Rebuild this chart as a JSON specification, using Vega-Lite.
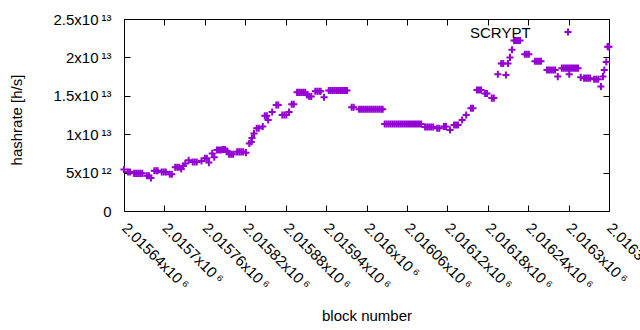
{
"$schema":"https://vega.github.io/schema/vega-lite/v6.json",
"width":485,"height":192,
"autosize":"none",
"padding":{"left":124,"top":19,"right":31,"bottom":119},
"background":"white",
"config":{"font":"Liberation Sans","view":{"stroke":"black","strokeWidth":1}},
"data":{"values":[
{"block":2015640,"hashrate":5.4e12},{"block":2015646,"hashrate":5.08e12},{"block":2015649,"hashrate":5.08e12},
{"block":2015655,"hashrate":4.9e12},{"block":2015658,"hashrate":4.9e12},{"block":2015661,"hashrate":4.9e12},{"block":2015664,"hashrate":4.9e12},{"block":2015667,"hashrate":4.9e12},
{"block":2015674,"hashrate":4.6e12},{"block":2015677,"hashrate":4.6e12},{"block":2015680,"hashrate":4.3e12},
{"block":2015685,"hashrate":5.25e12},{"block":2015688,"hashrate":5.25e12},{"block":2015690,"hashrate":5.25e12},
{"block":2015696,"hashrate":5.08e12},{"block":2015699,"hashrate":5.08e12},{"block":2015702,"hashrate":5.08e12},
{"block":2015708,"hashrate":4.78e12},{"block":2015711,"hashrate":4.78e12},
{"block":2015716,"hashrate":5.7e12},{"block":2015719,"hashrate":5.7e12},{"block":2015722,"hashrate":5.7e12},
{"block":2015725,"hashrate":5.47e12},{"block":2015728,"hashrate":5.86e12},{"block":2015731,"hashrate":6.2e12},{"block":2015736,"hashrate":6.6e12},
{"block":2015742,"hashrate":6.38e12},{"block":2015745,"hashrate":6.38e12},{"block":2015748,"hashrate":6.38e12},
{"block":2015755,"hashrate":6.5e12},{"block":2015760,"hashrate":6.86e12},{"block":2015763,"hashrate":6.86e12},{"block":2015766,"hashrate":6.3e12},
{"block":2015771,"hashrate":7.5e12},{"block":2015774,"hashrate":7.0e12},
{"block":2015778,"hashrate":7.94e12},{"block":2015781,"hashrate":7.94e12},{"block":2015784,"hashrate":7.94e12},
{"block":2015787,"hashrate":8.0e12},{"block":2015790,"hashrate":8.0e12},{"block":2015793,"hashrate":7.8e12},
{"block":2015796,"hashrate":7.4e12},{"block":2015799,"hashrate":7.4e12},{"block":2015802,"hashrate":7.4e12},
{"block":2015808,"hashrate":7.7e12},{"block":2015811,"hashrate":7.7e12},{"block":2015814,"hashrate":7.7e12},{"block":2015817,"hashrate":7.7e12},
{"block":2015821,"hashrate":7.6e12},{"block":2015826,"hashrate":8.8e12},{"block":2015829,"hashrate":9.0e12},{"block":2015830,"hashrate":9.5e12},{"block":2015833,"hashrate":10.1e12},
{"block":2015837,"hashrate":10.77e12},{"block":2015840,"hashrate":10.77e12},{"block":2015846,"hashrate":11.0e12},
{"block":2015849,"hashrate":12.4e12},{"block":2015852,"hashrate":12.4e12},{"block":2015854,"hashrate":11.85e12},
{"block":2015860,"hashrate":12.9e12},{"block":2015866,"hashrate":13.8e12},{"block":2015869,"hashrate":13.8e12},
{"block":2015875,"hashrate":12.5e12},{"block":2015878,"hashrate":12.5e12},{"block":2015881,"hashrate":12.5e12},
{"block":2015885,"hashrate":12.9e12},{"block":2015889,"hashrate":13.9e12},{"block":2015892,"hashrate":13.9e12},
{"block":2015897,"hashrate":15.45e12},{"block":2015900,"hashrate":15.45e12},{"block":2015903,"hashrate":15.45e12},{"block":2015906,"hashrate":15.45e12},{"block":2015909,"hashrate":15.45e12},
{"block":2015912,"hashrate":15.1e12},{"block":2015915,"hashrate":14.9e12},{"block":2015918,"hashrate":14.9e12},
{"block":2015924,"hashrate":15.6e12},{"block":2015927,"hashrate":15.6e12},{"block":2015930,"hashrate":15.6e12},{"block":2015932,"hashrate":15.6e12},
{"block":2015937,"hashrate":14.8e12},
{"block":2015944,"hashrate":15.7e12},{"block":2015947,"hashrate":15.7e12},{"block":2015950,"hashrate":15.7e12},{"block":2015953,"hashrate":15.7e12},{"block":2015956,"hashrate":15.7e12},{"block":2015959,"hashrate":15.7e12},{"block":2015962,"hashrate":15.7e12},{"block":2015965,"hashrate":15.7e12},{"block":2015968,"hashrate":15.7e12},{"block":2015971,"hashrate":15.7e12},
{"block":2015978,"hashrate":13.5e12},{"block":2015981,"hashrate":13.5e12},
{"block":2015989,"hashrate":13.25e12},{"block":2015992,"hashrate":13.25e12},{"block":2015995,"hashrate":13.25e12},{"block":2015998,"hashrate":13.25e12},{"block":2016001,"hashrate":13.25e12},{"block":2016004,"hashrate":13.25e12},{"block":2016007,"hashrate":13.25e12},{"block":2016010,"hashrate":13.25e12},{"block":2016013,"hashrate":13.25e12},{"block":2016016,"hashrate":13.25e12},{"block":2016019,"hashrate":13.25e12},{"block":2016022,"hashrate":13.25e12},{"block":2016024,"hashrate":13.25e12},
{"block":2016027,"hashrate":11.33e12},{"block":2016030,"hashrate":11.33e12},{"block":2016033,"hashrate":11.33e12},{"block":2016036,"hashrate":11.33e12},{"block":2016039,"hashrate":11.33e12},{"block":2016042,"hashrate":11.33e12},{"block":2016045,"hashrate":11.33e12},{"block":2016048,"hashrate":11.33e12},{"block":2016051,"hashrate":11.33e12},{"block":2016054,"hashrate":11.33e12},{"block":2016057,"hashrate":11.33e12},{"block":2016060,"hashrate":11.33e12},{"block":2016063,"hashrate":11.33e12},{"block":2016066,"hashrate":11.33e12},{"block":2016069,"hashrate":11.33e12},{"block":2016072,"hashrate":11.33e12},{"block":2016075,"hashrate":11.33e12},{"block":2016078,"hashrate":11.33e12},{"block":2016081,"hashrate":11.33e12},
{"block":2016087,"hashrate":10.94e12},{"block":2016090,"hashrate":10.94e12},{"block":2016093,"hashrate":10.94e12},{"block":2016096,"hashrate":10.94e12},{"block":2016099,"hashrate":10.94e12},
{"block":2016105,"hashrate":10.77e12},{"block":2016108,"hashrate":10.77e12},
{"block":2016115,"hashrate":11.0e12},{"block":2016118,"hashrate":11.0e12},{"block":2016124,"hashrate":10.55e12},
{"block":2016130,"hashrate":11.2e12},{"block":2016133,"hashrate":11.2e12},{"block":2016136,"hashrate":11.2e12},
{"block":2016142,"hashrate":11.85e12},{"block":2016148,"hashrate":12.5e12},
{"block":2016155,"hashrate":13.37e12},{"block":2016158,"hashrate":13.37e12},
{"block":2016164,"hashrate":15.75e12},{"block":2016167,"hashrate":15.75e12},{"block":2016170,"hashrate":15.75e12},
{"block":2016176,"hashrate":15.3e12},{"block":2016179,"hashrate":15.3e12},
{"block":2016186,"hashrate":14.7e12},{"block":2016189,"hashrate":14.7e12},
{"block":2016195,"hashrate":17.8e12},{"block":2016200,"hashrate":19.2e12},{"block":2016203,"hashrate":19.2e12},
{"block":2016207,"hashrate":17.7e12},{"block":2016210,"hashrate":19.2e12},{"block":2016213,"hashrate":20.0e12},{"block":2016216,"hashrate":21.0e12},
{"block":2016219,"hashrate":22.2e12},{"block":2016222,"hashrate":22.2e12},{"block":2016225,"hashrate":22.2e12},{"block":2016228,"hashrate":22.2e12},
{"block":2016235,"hashrate":20.4e12},{"block":2016238,"hashrate":20.4e12},{"block":2016241,"hashrate":20.4e12},
{"block":2016250,"hashrate":19.5e12},{"block":2016253,"hashrate":19.5e12},{"block":2016256,"hashrate":19.5e12},{"block":2016259,"hashrate":19.5e12},
{"block":2016268,"hashrate":18.36e12},{"block":2016271,"hashrate":18.36e12},{"block":2016274,"hashrate":18.36e12},{"block":2016277,"hashrate":18.36e12},{"block":2016280,"hashrate":18.36e12},
{"block":2016284,"hashrate":17.5e12},
{"block":2016290,"hashrate":18.6e12},{"block":2016293,"hashrate":18.6e12},{"block":2016296,"hashrate":18.6e12},{"block":2016299,"hashrate":18.6e12},{"block":2016302,"hashrate":18.6e12},{"block":2016305,"hashrate":18.6e12},{"block":2016308,"hashrate":18.6e12},{"block":2016311,"hashrate":18.6e12},{"block":2016314,"hashrate":18.6e12},
{"block":2016301,"hashrate":17.8e12},{"block":2016318,"hashrate":17.4e12},
{"block":2016323,"hashrate":17.3e12},{"block":2016326,"hashrate":17.3e12},{"block":2016329,"hashrate":17.3e12},{"block":2016332,"hashrate":17.3e12},
{"block":2016338,"hashrate":17.15e12},{"block":2016341,"hashrate":17.15e12},{"block":2016344,"hashrate":17.15e12},
{"block":2016348,"hashrate":16.2e12},{"block":2016351,"hashrate":17.5e12},{"block":2016353,"hashrate":18.36e12},{"block":2016356,"hashrate":19.4e12},
{"block":2016358,"hashrate":21.4e12},{"block":2016360,"hashrate":21.4e12}
]},
"layer":[
{"mark":{"type":"point","shape":"M-1,0H1M0,-1V1","filled":false,"size":50,"strokeWidth":2,"opacity":1,"clip":false},
 "encoding":{
  "x":{"field":"block","type":"quantitative","scale":{"domain":[2015640,2016360],"nice":false,"zero":false},
   "axis":{"orient":"bottom","values":[2015640,2015700,2015760,2015820,2015880,2015940,2016000,2016060,2016120,2016180,2016240,2016300,2016360],
    "labelExpr":"format(datum.value/1e6,'~g')+'x10\u2009⁶'","labelAngle":45,"labelAlign":"left","labelBaseline":"middle","labelPadding":20,
    "labelOverlap":false,"labelFlush":false,"labelBound":false,"labelFontSize":15,"labelColor":"black",
    "tickSize":-6,"tickColor":"black","tickWidth":1,"domain":false,"grid":false,
    "title":"block number","titleFontSize":15,"titleFontWeight":"normal","titleColor":"black","titleBaseline":"middle","titleX":242.5,"titleY":104}},
  "y":{"field":"hashrate","type":"quantitative","scale":{"domain":[0,2.5e13],"nice":false},
   "axis":{"orient":"left","values":[0,5e12,1e13,1.5e13,2e13,2.5e13],
    "labelExpr":"datum.value==0?'0':(format(datum.value/pow(10,floor(log(datum.value)/LN10+1e-9)),'~g')+'x10\u2009'+(datum.value>=1e13?'¹³':'¹²'))",
    "labelPadding":19,"labelFontSize":15,"labelColor":"black","labelBaseline":"middle",
    "tickSize":-6,"tickColor":"black","tickWidth":1,"domain":false,"grid":false,
    "title":"hashrate [h/s]","titleFontSize":15,"titleFontWeight":"normal","titleColor":"black","titleAngle":270,"titleAlign":"center","titleBaseline":"middle","titleX":-107.5,"titleY":100.5}},
  "color":{"datum":"SCRYPT","type":"nominal","scale":{"range":["#9400d3"]},
   "legend":{"orient":"none","legendX":346,"legendY":8,"padding":0,"title":"SCRYPT","titleOrient":"left","titlePadding":32,
    "titleFontSize":15,"titleFontWeight":"normal","titleColor":"black","labelExpr":"''",
    "symbolType":"M-1,0H1M0,-1V1","symbolSize":50,"symbolStrokeWidth":2,"symbolStrokeColor":"#9400d3","symbolFillColor":"transparent"}}
 }},
{"mark":{"type":"point","opacity":0},
 "encoding":{
  "x":{"field":"block","type":"quantitative","axis":{"orient":"top","values":[2015640,2015700,2015760,2015820,2015880,2015940,2016000,2016060,2016120,2016180,2016240,2016300,2016360],"labels":false,"title":null,"tickSize":-6,"tickColor":"black","domain":false,"grid":false}},
  "y":{"field":"hashrate","type":"quantitative","axis":{"orient":"right","values":[0,5e12,1e13,1.5e13,2e13,2.5e13],"labels":false,"title":null,"tickSize":-6,"tickColor":"black","domain":false,"grid":false}}
 }}
],
"resolve":{"axis":{"x":"independent","y":"independent"}}
}
